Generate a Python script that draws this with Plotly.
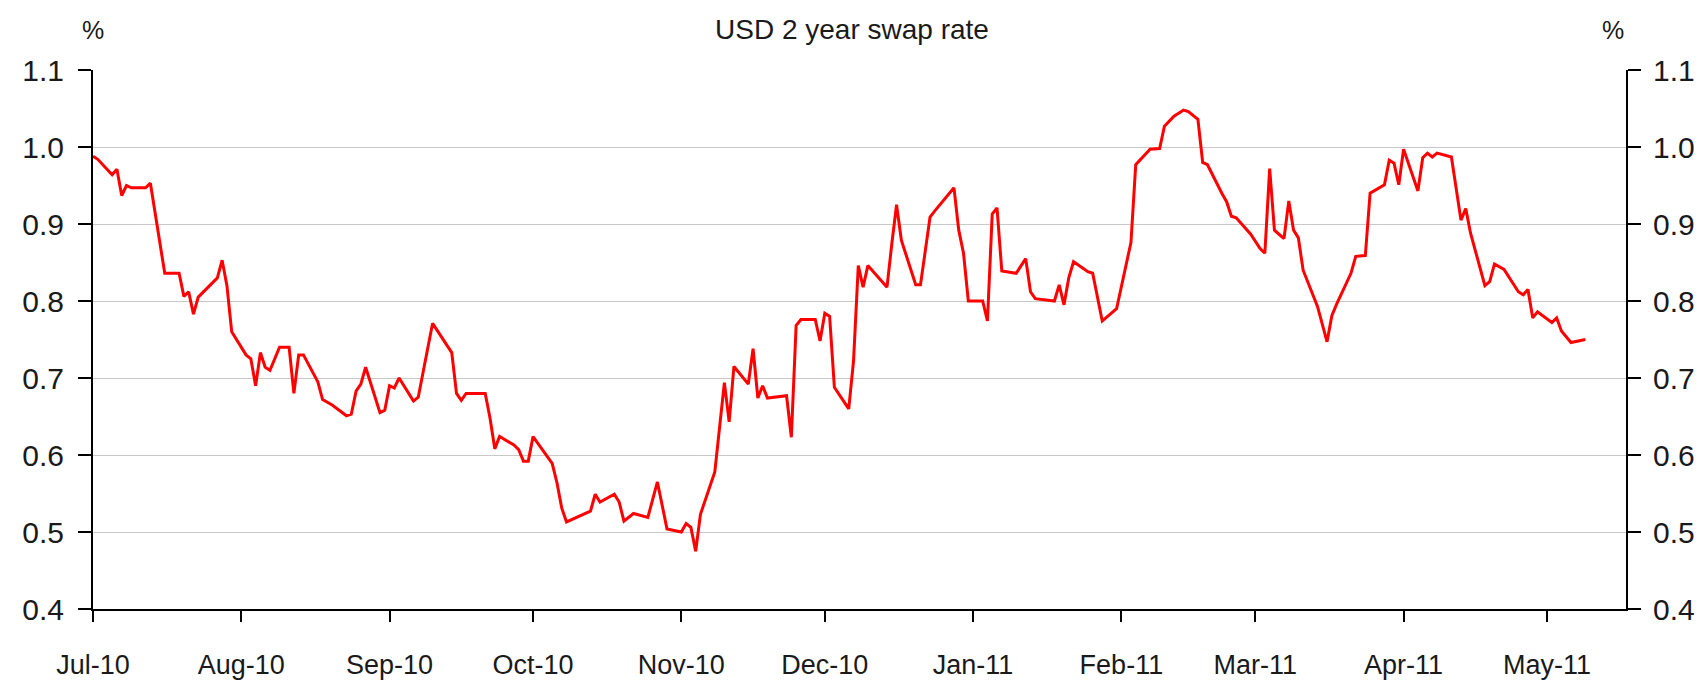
import plotly.graph_objects as go

dates = [
    "2010-07-01", "2010-07-02", "2010-07-05", "2010-07-06", "2010-07-07", "2010-07-08", "2010-07-09",
    "2010-07-12", "2010-07-13", "2010-07-14", "2010-07-16", "2010-07-19", "2010-07-20", "2010-07-21",
    "2010-07-22", "2010-07-23", "2010-07-27", "2010-07-28", "2010-07-29", "2010-07-30",
    "2010-08-02", "2010-08-03", "2010-08-04", "2010-08-05", "2010-08-06", "2010-08-07", "2010-08-09",
    "2010-08-11", "2010-08-12", "2010-08-13", "2010-08-14", "2010-08-17", "2010-08-18", "2010-08-20",
    "2010-08-23", "2010-08-24", "2010-08-25", "2010-08-26", "2010-08-27", "2010-08-30", "2010-08-31",
    "2010-09-01", "2010-09-02", "2010-09-03", "2010-09-06", "2010-09-07", "2010-09-10", "2010-09-14",
    "2010-09-15", "2010-09-16", "2010-09-17", "2010-09-21", "2010-09-22", "2010-09-23", "2010-09-24",
    "2010-09-27", "2010-09-28", "2010-09-29", "2010-09-30",
    "2010-10-01", "2010-10-04", "2010-10-05", "2010-10-06", "2010-10-07", "2010-10-08", "2010-10-12",
    "2010-10-13", "2010-10-14", "2010-10-15", "2010-10-18", "2010-10-19", "2010-10-20", "2010-10-22",
    "2010-10-25", "2010-10-27", "2010-10-29",
    "2010-11-01", "2010-11-02", "2010-11-03", "2010-11-04", "2010-11-05", "2010-11-08", "2010-11-10",
    "2010-11-11", "2010-11-12", "2010-11-15", "2010-11-16", "2010-11-17", "2010-11-18", "2010-11-19",
    "2010-11-23", "2010-11-24", "2010-11-25", "2010-11-26", "2010-11-29", "2010-11-30",
    "2010-12-01", "2010-12-02", "2010-12-03", "2010-12-06", "2010-12-07", "2010-12-08", "2010-12-09",
    "2010-12-10", "2010-12-14", "2010-12-15", "2010-12-16", "2010-12-17", "2010-12-20", "2010-12-21",
    "2010-12-23", "2010-12-24", "2010-12-28", "2010-12-29", "2010-12-30", "2010-12-31",
    "2011-01-03", "2011-01-04", "2011-01-05", "2011-01-06", "2011-01-07", "2011-01-10", "2011-01-12",
    "2011-01-13", "2011-01-14", "2011-01-18", "2011-01-19", "2011-01-20", "2011-01-21", "2011-01-22",
    "2011-01-25", "2011-01-26", "2011-01-28", "2011-01-31",
    "2011-02-03", "2011-02-04", "2011-02-07", "2011-02-09", "2011-02-10", "2011-02-12", "2011-02-14",
    "2011-02-15", "2011-02-17", "2011-02-18", "2011-02-19", "2011-02-22", "2011-02-23", "2011-02-24",
    "2011-02-25", "2011-02-28",
    "2011-03-02", "2011-03-03", "2011-03-04", "2011-03-05", "2011-03-07", "2011-03-08", "2011-03-09",
    "2011-03-10", "2011-03-11", "2011-03-14", "2011-03-16", "2011-03-17", "2011-03-18", "2011-03-21",
    "2011-03-22", "2011-03-24", "2011-03-25", "2011-03-28", "2011-03-29", "2011-03-30", "2011-03-31",
    "2011-04-01", "2011-04-04", "2011-04-05", "2011-04-06", "2011-04-07", "2011-04-08", "2011-04-11",
    "2011-04-13", "2011-04-14", "2011-04-15", "2011-04-18", "2011-04-19", "2011-04-20", "2011-04-22",
    "2011-04-25", "2011-04-26", "2011-04-27", "2011-04-28", "2011-04-29",
    "2011-05-02", "2011-05-03", "2011-05-04", "2011-05-06", "2011-05-09",
]

swap_rate = [
    0.988, 0.984, 0.964, 0.971, 0.937, 0.950, 0.947,
    0.947, 0.953, 0.914, 0.836, 0.836, 0.806, 0.812,
    0.783, 0.805, 0.830, 0.853, 0.820, 0.760,
    0.730, 0.725, 0.690, 0.733, 0.714, 0.710, 0.740,
    0.740, 0.680, 0.730, 0.730, 0.695, 0.672, 0.665,
    0.651, 0.653, 0.683, 0.692, 0.714, 0.655, 0.658,
    0.690, 0.687, 0.700, 0.670, 0.675, 0.771, 0.733,
    0.680, 0.671, 0.680, 0.680, 0.648, 0.608, 0.624,
    0.613, 0.607, 0.592, 0.592,
    0.624, 0.597, 0.589, 0.564, 0.531, 0.513, 0.525,
    0.527, 0.549, 0.539, 0.549, 0.539, 0.514, 0.524,
    0.519, 0.565, 0.504,
    0.500, 0.511, 0.506, 0.475, 0.523, 0.578, 0.694,
    0.643, 0.715, 0.692, 0.738, 0.674, 0.690, 0.674,
    0.677, 0.623, 0.768, 0.776, 0.776, 0.748,
    0.784, 0.780, 0.688, 0.660, 0.722, 0.846, 0.818,
    0.846, 0.818, 0.874, 0.925, 0.879, 0.821, 0.821,
    0.909, 0.917, 0.947, 0.892, 0.862, 0.800,
    0.800, 0.774, 0.913, 0.921, 0.839, 0.836, 0.855,
    0.812, 0.803, 0.800, 0.821, 0.795, 0.830, 0.851,
    0.838, 0.836, 0.774, 0.790,
    0.876, 0.977, 0.997, 0.998, 1.027, 1.040, 1.048,
    1.046, 1.036, 0.980, 0.977, 0.940, 0.929, 0.910,
    0.908, 0.887,
    0.868, 0.862, 0.972, 0.892, 0.881, 0.930, 0.892,
    0.882, 0.840, 0.793, 0.747, 0.781, 0.796, 0.836,
    0.858, 0.859, 0.940, 0.951, 0.983, 0.979, 0.951,
    0.997, 0.943, 0.986, 0.992, 0.987, 0.992, 0.987,
    0.905, 0.920, 0.888, 0.820, 0.825, 0.848, 0.841,
    0.812, 0.808, 0.815, 0.778, 0.786,
    0.772, 0.778, 0.761, 0.746, 0.750,
]

title_text = "USD 2 year swap rate"
unit_label = "%"
y_ticks = [0.4, 0.5, 0.6, 0.7, 0.8, 0.9, 1.0, 1.1]
x_range = ["2010-07-01", "2011-05-17 12:00"]

FONT = "Liberation Sans, Arial, Helvetica, sans-serif"
TXT = "#1a1a1a"

fig = go.Figure()
fig.add_trace(go.Scatter(
    x=dates, y=swap_rate, mode="lines",
    line=dict(color="#ff0000", width=3),
    showlegend=False, hoverinfo="x+y",
))
# mirror series on right axis (invisible) so the right axis is drawn
fig.add_trace(go.Scatter(
    x=dates, y=swap_rate, mode="lines", yaxis="y2",
    line=dict(color="rgba(0,0,0,0)", width=0),
    showlegend=False, hoverinfo="skip",
))

x_font = dict(family=FONT, size=27, color=TXT)
y_font = dict(family=FONT, size=30, color=TXT)

fig.update_layout(
    template="none",
    width=1703, height=683,
    margin=dict(l=85, r=85, t=62, b=82, pad=0),
    paper_bgcolor="white", plot_bgcolor="white",
    font=dict(family=FONT, color=TXT),
    xaxis=dict(
        type="date", range=x_range, automargin=False,
        tickformat="%b-%y", dtick="M1", tick0="2010-07-01",
        ticks="outside", ticklen=11, tickwidth=2, tickcolor="black",
        showline=True, linecolor="black", linewidth=2,
        showgrid=False, zeroline=False,
        tickfont=x_font, ticklabelstandoff=20,
    ),
    yaxis=dict(
        range=[0.4, 1.1], tickvals=y_ticks, tickformat=".1f", automargin=False,
        ticks="outside", ticklen=13, tickwidth=2, tickcolor="black",
        showline=True, linecolor="black", linewidth=2,
        showgrid=True, gridcolor="#c8c8c8", gridwidth=1.2,
        zeroline=False, tickfont=y_font, ticklabelstandoff=8,
    ),
    yaxis2=dict(
        range=[0.4, 1.1], tickvals=y_ticks, tickformat=".1f", automargin=False,
        overlaying="y", side="right",
        ticks="outside", ticklen=13, tickwidth=2, tickcolor="black",
        showline=True, linecolor="black", linewidth=2,
        showgrid=False, zeroline=False, tickfont=y_font, ticklabelstandoff=6,
    ),
    annotations=[
        dict(text=title_text, xref="paper", yref="paper", x=0.495, y=1.075,
             xanchor="center", yanchor="middle", showarrow=False,
             font=dict(family=FONT, size=28, color=TXT)),
        dict(text=unit_label, xref="paper", yref="paper", x=0.0, y=1.075,
             xanchor="center", yanchor="middle", showarrow=False,
             font=dict(family=FONT, size=25, color=TXT)),
        dict(text=unit_label, xref="paper", yref="paper", x=0.9915, y=1.075,
             xanchor="center", yanchor="middle", showarrow=False,
             font=dict(family=FONT, size=25, color=TXT)),
    ],
)

fig.write_html("out.html")
